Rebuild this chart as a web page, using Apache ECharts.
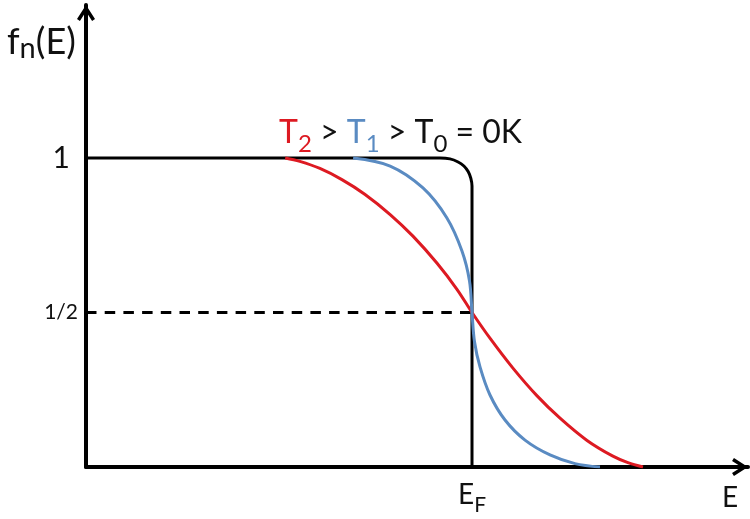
<!DOCTYPE html>
<html>
<head>
<meta charset="utf-8">
<script src="https://cdn.jsdelivr.net/npm/echarts@6/dist/echarts.min.js"></script>
<style>
  html, body { margin: 0; background: #fff; }
  #main { width: 750px; height: 519px; }
</style>
</head>
<body>
<div id="main"></div>
<script>
"use strict";

/* =====================================================
   数据 (横轴: E / E_F, 纵轴: f_n(E))
   ===================================================== */
const xMax = 1.715;
const yMax = 1.495;

// T0 = 0K：阶跃（拐角为圆角）
const t0Curve = [
  [0, 1], [0.917, 1], [0.943, 0.997], [0.964, 0.987], [0.979, 0.974],
  [0.990, 0.956], [0.997, 0.934], [1.0, 0.909], [1.0, 0.883], [1.0, 0]
];

// T1（蓝）
const t1Curve = [
  [0.692, 1.0], [0.788, 0.974], [0.873, 0.903], [0.935, 0.806], [0.974, 0.699],
  [0.9935, 0.602], [1.0, 0.5], [1.0065, 0.405], [1.0207, 0.324], [1.0466, 0.233],
  [1.0855, 0.152], [1.1373, 0.087], [1.2021, 0.039], [1.2668, 0.011], [1.3316, 0.0]
];

// T2（红）
const t2Curve = [
  [0.516, 1.0], [0.554, 0.989], [0.606, 0.966], [0.663, 0.930], [0.723, 0.882],
  [0.788, 0.817], [0.847, 0.747], [0.909, 0.660], [0.961, 0.575], [1.0, 0.5],
  [1.047, 0.416], [1.106, 0.320], [1.168, 0.231], [1.228, 0.158], [1.298, 0.086],
  [1.365, 0.035], [1.404, 0.014], [1.443, 0.0]
];

// 1/2 虚线
const halfLine = [[0, 0.5], [1, 0.5]];

const FONT = "Lato";
const INK = "#111";
const RED = "#dd1a22";
const BLUE = "#5a8bc2";

/* =====================================================
   坐标轴箭头（开口箭头）
   ===================================================== */
const chevron = "path://M9,0 L18,14 L15.1,15.9 L9,6.4 L2.9,15.9 L0,14 Z";

function axisLine() {
  return {
    show: true,
    symbol: ["none", chevron],
    symbolSize: [18, 16],
    symbolOffset: [0, -8],
    lineStyle: { color: "#000", width: 4 }
  };
}

const chart = echarts.init(document.getElementById("main"), null, { renderer: "canvas" });

const option = {
  backgroundColor: "#fff",
  animation: false,
  grid: { left: 86, right: 2, top: 5, bottom: 52 },
  xAxis: {
    type: "value", min: 0, max: xMax, interval: 1,
    axisLine: axisLine(),
    axisTick: { show: false },
    splitLine: { show: false },
    axisLabel: {
      margin: 14,
      showMaxLabel: false,
      formatter: v => (v === 1 ? "{e|E}{f|F}" : ""),
      rich: {
        e: { fontFamily: FONT, fontSize: 28, color: INK, verticalAlign: "bottom", padding: [0, 0, 7, 0] },
        f: { fontFamily: FONT, fontSize: 21, color: INK, verticalAlign: "bottom" }
      }
    }
  },
  yAxis: {
    type: "value", min: 0, max: yMax, interval: 0.5,
    axisLine: axisLine(),
    axisTick: { show: false },
    splitLine: { show: false },
    axisLabel: {
      margin: 8,
      showMaxLabel: false,
      formatter: v => (v === 1 ? "{a|1}" : v === 0.5 ? "{b|1/2}" : ""),
      rich: {
        a: { fontFamily: FONT, fontSize: 30, color: INK, padding: [0, 8, 0, 0] },
        b: { fontFamily: FONT, fontSize: 21, color: INK }
      }
    }
  },
  series: [
    {
      name: "T0", type: "line", data: t0Curve, smooth: 0.3,
      showSymbol: false, lineStyle: { color: "#000", width: 3 }, z: 2
    },
    {
      name: "half", type: "line", data: halfLine,
      showSymbol: false, lineStyle: { color: "#000", width: 3.2, type: [10.5, 8.2] }, z: 2
    },
    {
      name: "T2", type: "line", data: t2Curve, smooth: 0.35,
      showSymbol: false, lineStyle: { color: RED, width: 3 }, z: 3
    },
    {
      name: "T1", type: "line", data: t1Curve, smooth: 0.35,
      showSymbol: false, lineStyle: { color: BLUE, width: 3 }, z: 4
    }
  ],
  graphic: [
    {
      type: "text", left: 7, top: 24,
      style: {
        text: "{a|f}{s|n}{a|(E)}",
        rich: {
          a: { fontFamily: FONT, fontSize: 36, fill: INK, verticalAlign: "bottom", padding: [0, 0, 3, 0] },
          s: { fontFamily: FONT, fontSize: 29, fill: INK, verticalAlign: "bottom" }
        }
      }
    },
    {
      type: "text", left: 279, top: 117,
      style: {
        text: "{r|T}{rs|2}{k| > }{b|T}{bs|1}{k| > T}{ks|0}{k| = 0K}",
        rich: {
          r:  { fontFamily: FONT, fontSize: 32, fill: RED, verticalAlign: "bottom", padding: [0, 0, 7, 0] },
          rs: { fontFamily: FONT, fontSize: 24, fill: RED, verticalAlign: "bottom" },
          b:  { fontFamily: FONT, fontSize: 32, fill: BLUE, verticalAlign: "bottom", padding: [0, 0, 7, 0] },
          bs: { fontFamily: FONT, fontSize: 24, fill: BLUE, verticalAlign: "bottom" },
          k:  { fontFamily: FONT, fontSize: 32, fill: INK, verticalAlign: "bottom", padding: [0, 0, 7, 0] },
          ks: { fontFamily: FONT, fontSize: 24, fill: INK, verticalAlign: "bottom" }
        }
      }
    },
    {
      type: "text", left: 722, top: 484,
      style: { text: "E", fontFamily: FONT, fontSize: 28, fill: INK }
    }
  ]
};

chart.setOption(option);
</script>
</body>
</html>
